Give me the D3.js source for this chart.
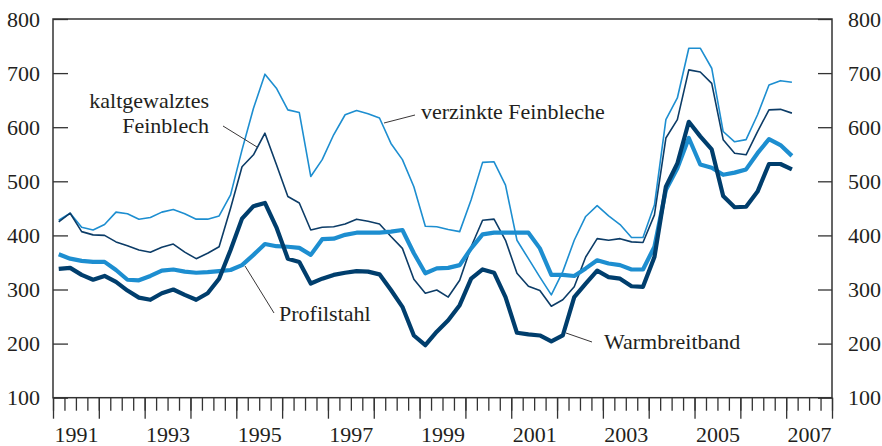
<!DOCTYPE html>
<html>
<head>
<meta charset="utf-8">
<script src="https://cdn.jsdelivr.net/npm/d3@7"></script>
<style>
  body { margin: 0; background: #fff; }
</style>
</head>
<body>
<div id="chart"></div>
<script>
// quarterly prices, 1991 Q1 .. 2007 Q1
var startYear = 1991;
var verzinkte = [428, 441, 415, 410, 420, 443, 440, 430, 433, 443, 448, 440,
  430, 430, 436, 475, 558, 635, 698, 672, 632, 627, 509,
  540, 586, 623, 631, 625, 617, 570, 540, 490, 417, 416,
  411, 407, 466, 535, 536, 493, 391, 357, 323, 290, 333,
  391, 435, 455, 436, 420, 396, 396, 456, 614, 654, 746,
  746, 709, 592, 573, 577, 623, 678, 686, 683];
var kaltgewalzt = [425, 441, 407, 401, 400, 388, 381, 373, 369, 378, 384, 369,
  357, 367, 379, 450, 527, 549, 589, 531, 472, 460, 410,
  415, 416, 421, 430, 426, 421, 398, 376, 319, 293, 299,
  286, 317, 379, 428, 430, 391, 330, 306, 298, 269, 281,
  305, 360, 394, 391, 394, 388, 387, 438, 580, 614, 706,
  702, 681, 577, 552, 549, 592, 632, 633, 626];
var profilstahl = [365, 357, 353, 351, 351, 336, 318, 317, 325, 335, 337, 333,
  331, 332, 334, 336, 345, 364, 384, 380, 379, 377, 364,
  393, 394, 401, 405, 405, 405, 407, 410, 367, 330, 339,
  340, 345, 376, 402, 405, 405, 405, 405, 376, 327, 327,
  325, 339, 354, 348, 345, 337, 337, 379, 484, 524, 580,
  531, 525, 512, 516, 522, 552, 578, 567, 547];
var warmbreitband = [338, 340, 327, 318, 325, 314, 298, 285, 281, 293, 300, 290,
  281, 293, 320, 373, 431, 454, 460, 415, 357, 351, 311,
  320, 327, 331, 334, 333, 328, 299, 268, 215, 197, 222,
  243, 271, 320, 337, 331, 286, 220, 217, 215, 204, 215,
  286, 311, 335, 323, 320, 306, 305, 360, 490, 533, 610,
  583, 559, 473, 452, 453, 481, 532, 532, 522];
var yearLabels = [1991, 1993, 1995, 1997, 1999, 2001, 2003, 2005, 2007];
var yTicks = [100, 200, 300, 400, 500, 600, 700, 800];

var width = 882, height = 446;
var plotL = 53, plotR = 832, plotT = 19, plotB = 397.7;
var serif = "'Liberation Serif', 'DejaVu Serif', 'Times New Roman', serif";

var svg = d3.select("#chart").append("svg")
  .attr("width", width)
  .attr("height", height);

var x = d3.scaleLinear().domain([1991, 2008]).range([plotL, plotR]);
var y = d3.scaleLinear().domain([100, 800]).range([plotB, plotT]);

// quarter midpoint for point i
function qx(i) { return startYear + (i + 0.5) / 4; }

var series = [
  {name: "verzinkte", values: verzinkte, color: "#1d8ed0", w: 1.6},
  {name: "kaltgewalzt", values: kaltgewalzt, color: "#0c3c67", w: 1.6},
  {name: "profilstahl", values: profilstahl, color: "#1d8ed0", w: 4.2},
  {name: "warmbreitband", values: warmbreitband, color: "#003e6d", w: 4.2}
];

// left and right axes, ticks pointing inward
var yLeft = d3.axisLeft(y).tickValues(yTicks).tickSizeInner(-15).tickSizeOuter(0).tickPadding(13);
var yRight = d3.axisRight(y).tickValues(yTicks).tickSizeInner(-14).tickSizeOuter(0).tickPadding(16);

var gl = svg.append("g").attr("transform", "translate(" + plotL + ",0)").call(yLeft);
var gr = svg.append("g").attr("transform", "translate(" + plotR + ",0)").call(yRight);

// bottom: quarter ticks short, year ticks long
var quarterTicks = d3.range(1991, 2008.01, 0.25);
var yearTicks = d3.range(1991, 2009, 1);
var gq = svg.append("g").attr("transform", "translate(0," + plotB + ")")
  .call(d3.axisBottom(x).tickValues(quarterTicks).tickSize(13).tickFormat(""));
var gy = svg.append("g").attr("transform", "translate(0," + plotB + ")")
  .call(d3.axisBottom(x).tickValues(yearTicks).tickSize(21).tickFormat(""));
var gt = svg.append("g").attr("transform", "translate(0," + plotB + ")")
  .call(d3.axisBottom(x).tickValues(yearLabels.map(function(d) { return d + 0.5; }))
    .tickSize(0).tickPadding(29).tickFormat(function(d) { return Math.floor(d); }));

[gl, gr, gq, gy, gt].forEach(function(g) {
  g.attr("font-family", serif).attr("font-size", 22);
  g.select(".domain").remove();
  g.selectAll("line").attr("stroke", "#333").attr("stroke-width", 1.3);
  g.selectAll("text")
    .style("font-family", serif)
    .style("font-size", "22px")
    .attr("fill", "#231f20");
});

// frame
svg.append("rect")
  .attr("x", plotL).attr("y", plotT)
  .attr("width", plotR - plotL).attr("height", plotB - plotT)
  .attr("fill", "none").attr("stroke", "#333").attr("stroke-width", 1.5);

var line = d3.line()
  .x(function(d, i) { return x(qx(i)); })
  .y(function(d) { return y(d); });

svg.selectAll("path.series")
  .data(series)
  .enter()
  .append("path")
    .attr("class", "series")
    .attr("d", function(d) { return line(d.values); })
    .attr("fill", "none")
    .attr("stroke", function(d) { return d.color; })
    .attr("stroke-width", function(d) { return d.w; })
    .attr("stroke-linejoin", "round");

// labels with leader lines
var labels = [
  {lines: ["kaltgewalztes", "Feinblech"], x: 209, y: 108, anchor: "end", from: [223, 126], to: [257, 147]},
  {lines: ["verzinkte Feinbleche"], x: 421, y: 119, anchor: "start", from: [415, 115], to: [384, 123]},
  {lines: ["Profilstahl"], x: 279, y: 321, anchor: "start", from: [274, 313], to: [245, 266]},
  {lines: ["Warmbreitband"], x: 604, y: 349, anchor: "start", from: [592, 342], to: [566, 333]}
];

labels.forEach(function(l) {
  svg.append("line")
    .attr("x1", l.from[0]).attr("y1", l.from[1])
    .attr("x2", l.to[0]).attr("y2", l.to[1])
    .attr("stroke", "#231f20").attr("stroke-width", 0.9);
  l.lines.forEach(function(t, k) {
    svg.append("text")
      .attr("x", l.x).attr("y", l.y + k * 25)
      .attr("text-anchor", l.anchor)
      .attr("fill", "#231f20")
      .style("font-family", serif)
      .style("font-size", "22px")
      .text(t);
  });
});
</script>
</body>
</html>
